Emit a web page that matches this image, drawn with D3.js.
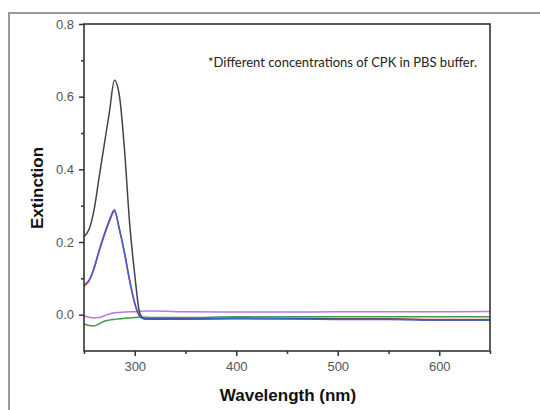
<!DOCTYPE html>
<html>
<head>
<meta charset="utf-8">
<script src="https://cdn.jsdelivr.net/npm/d3@7"></script>
<style>
  body { margin: 0; background: #fff; }
  svg { display: block; }
</style>
</head>
<body>
<div id="chart"></div>
<script>
// wavelengths (nm)
var wavelength = [250, 255, 260, 265, 270, 275, 280, 285, 290, 295, 300, 305, 310, 320, 350, 400, 450, 500, 550, 600, 650];

// extinction values for each trace
var blackVals  = [0.215, 0.235, 0.29, 0.38, 0.469, 0.557, 0.645, 0.60, 0.45, 0.25, 0.11, 0.004, -0.012, -0.012, -0.012, -0.011, -0.011, -0.012, -0.012, -0.015, -0.015];
var redVals    = [0.078, 0.093, 0.127, 0.175, 0.218, 0.256, 0.284, 0.232, 0.167, 0.092, 0.03, -0.004, -0.011, -0.011, -0.011, -0.010, -0.010, -0.011, -0.012, -0.013, -0.013];
var blueVals   = [0.082, 0.095, 0.13, 0.178, 0.222, 0.26, 0.289, 0.235, 0.17, 0.095, 0.032, -0.005, -0.012, -0.012, -0.012, -0.010, -0.011, -0.013, -0.013, -0.015, -0.015];
var greenVals  = [-0.025, -0.030, -0.031, -0.025, -0.018, -0.015, -0.013, -0.011, -0.010, -0.009, -0.008, -0.007, -0.007, -0.008, -0.008, -0.006, -0.006, -0.006, -0.006, -0.006, -0.006];
var purpleVals = [-0.003, -0.007, -0.009, -0.008, -0.003, 0.002, 0.005, 0.006, 0.007, 0.008, 0.008, 0.009, 0.010, 0.010, 0.008, 0.007, 0.007, 0.008, 0.008, 0.008, 0.009];

var series = [
    {name: "green",  color: "#3f9a4f", values: greenVals},
    {name: "purple", color: "#b57be0", values: purpleVals},
    {name: "red",    color: "#e0403a", values: redVals},
    {name: "black",  color: "#444444", values: blackVals},
    {name: "blue",   color: "#3d5fd6", values: blueVals}
];

var xMajor = [300, 400, 500, 600];
var xMinor = [250, 350, 450, 550, 650];
var yMajor = [0.0, 0.2, 0.4, 0.6, 0.8];
var yMinor = [0.1, 0.3, 0.5, 0.7];

var W = 540, H = 410;
var mLeft = 84, mRight = 490, mTop = 24, mBottom = 351;

var svg = d3.select("#chart").append("svg")
    .attr("width", W)
    .attr("height", H);

// grey outer frame of the figure
svg.append("rect")
    .attr("x", 9).attr("y", 13)
    .attr("width", 560).attr("height", 420)
    .attr("fill", "none")
    .attr("stroke", "#9a9a9a")
    .attr("stroke-width", 2);

var x = d3.scaleLinear().domain([250, 650]).range([mLeft, mRight]);
var y = d3.scaleLinear().domain([-0.1, 0.8]).range([mBottom, mTop]);

var line = d3.line()
    .x(function(d) { return x(d[0]); })
    .y(function(d) { return y(d[1]); })
    .curve(d3.curveMonotoneX);

svg.selectAll("path.trace")
    .data(series)
    .enter().append("path")
    .attr("class", "trace")
    .attr("fill", "none")
    .attr("stroke", function(d) { return d.color; })
    .attr("stroke-width", 1.5)
    .attr("d", function(d) {
        return line(wavelength.map(function(w, i) { return [w, d.values[i]]; }));
    });

// axes
var xAxis = svg.append("g")
    .attr("transform", "translate(0," + mBottom + ")")
    .call(d3.axisBottom(x).tickValues(xMajor).tickSize(5).tickPadding(6));
var xAxisMinor = svg.append("g")
    .attr("transform", "translate(0," + mBottom + ")")
    .call(d3.axisBottom(x).tickValues(xMinor).tickSize(3).tickFormat(""));
var yAxis = svg.append("g")
    .attr("transform", "translate(" + mLeft + ",0)")
    .call(d3.axisLeft(y).tickValues(yMajor).tickSize(5).tickPadding(5).tickFormat(d3.format(".1f")));
var yAxisMinor = svg.append("g")
    .attr("transform", "translate(" + mLeft + ",0)")
    .call(d3.axisLeft(y).tickValues(yMinor).tickSize(3).tickFormat(""));

[xAxis, xAxisMinor, yAxis, yAxisMinor].forEach(function(g) {
    g.select(".domain").remove();
    g.selectAll("line").attr("stroke", "#333").attr("stroke-width", 1.5);
    g.selectAll("text")
        .attr("fill", "#555")
        .attr("font-family", "Liberation Sans, Arial, sans-serif")
        .attr("font-size", 13);
});

// box around plot area
svg.append("rect")
    .attr("x", mLeft).attr("y", mTop)
    .attr("width", mRight - mLeft).attr("height", mBottom - mTop)
    .attr("fill", "none")
    .attr("stroke", "#333")
    .attr("stroke-width", 1.6);

// note
svg.append("text")
    .attr("x", 208).attr("y", 67)
    .attr("font-family", "Lato, sans-serif")
    .attr("font-size", 13)
    .attr("fill", "#222")
    .text("*Different concentrations of CPK in PBS buffer.");

// axis titles
svg.append("text")
    .attr("x", 288).attr("y", 401)
    .attr("text-anchor", "middle")
    .attr("font-family", "Liberation Sans, Arial, sans-serif")
    .attr("font-weight", "bold")
    .attr("font-size", 17)
    .attr("fill", "#111")
    .text("Wavelength (nm)");

svg.append("text")
    .attr("transform", "translate(43,188) rotate(-90)")
    .attr("text-anchor", "middle")
    .attr("font-family", "Liberation Sans, Arial, sans-serif")
    .attr("font-weight", "bold")
    .attr("font-size", 17)
    .attr("fill", "#111")
    .text("Extinction");
</script>
</body>
</html>
